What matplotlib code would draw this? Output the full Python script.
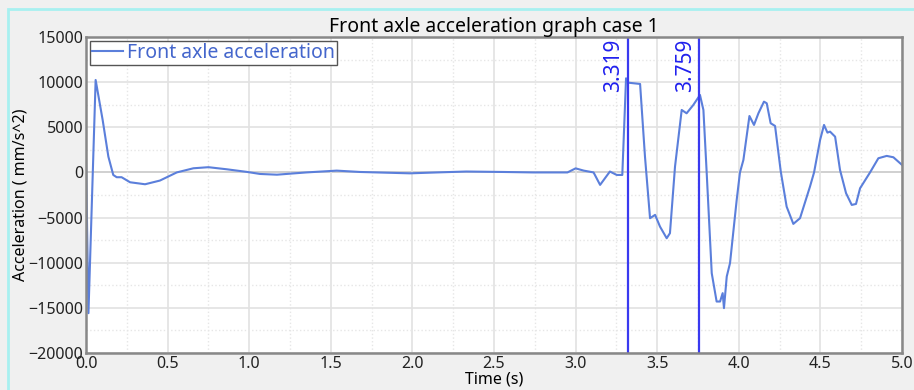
import matplotlib.pyplot as plt
from matplotlib.patches import Rectangle
from matplotlib.ticker import MultipleLocator

plt.rcParams['font.family'] = ['Noto Sans', 'DejaVu Sans']

# Tempo (s) e aceleração (mm/s^2)
tempo = [0.0, 0.0, 0.015, 0.059, 0.102, 0.137, 0.167, 0.188, 0.218, 0.27, 0.362,
         0.453, 0.556, 0.658, 0.75, 0.862, 0.985, 1.066, 1.17, 1.35, 1.536, 1.68,
         1.985, 2.15, 2.33, 2.56, 2.74, 2.95, 3.0, 3.05, 3.11, 3.15, 3.21, 3.252,
         3.286, 3.309, 3.323, 3.395, 3.425, 3.456, 3.487, 3.517, 3.558, 3.578,
         3.609, 3.65, 3.68, 3.721, 3.762, 3.783, 3.803, 3.834, 3.864, 3.885,
         3.901, 3.909, 3.926, 3.946, 3.987, 4.007, 4.028, 4.065, 4.093, 4.12,
         4.154, 4.171, 4.195, 4.222, 4.257, 4.293, 4.334, 4.375, 4.436, 4.461,
         4.498, 4.522, 4.543, 4.559, 4.59, 4.62, 4.657, 4.692, 4.718, 4.743,
         4.804, 4.855, 4.906, 4.947, 5.0]
aceleracao = [1460, 1460, -15590, 10240, 5810, 1750, -280, -530, -530, -1090, -1310,
              -900, 0, 460, 580, 350, 60, -170, -250, 0, 200, 50,
              -100, 0, 100, 50, 0, 0, 450, 200, 0, -1380, 100, -280,
              -280, 10430, 9940, 9800, 1750, -5070, -4700, -6000, -7290, -6730,
              640, 6920, 6550, 7470, 8580, 6920, 0, -11160, -14300, -14300,
              -13370, -15030, -11530, -10050, -3040, 0, 1380, 6250, 5260, 6550,
              7840, 7660, 5450, 5150, 100, -3790, -5700, -5070, -1570, 0,
              3600, 5260, 4410, 4520, 3960, 280, -2300, -3600, -3490, -1750,
              0, 1570, 1830, 1680, 830]

marcadores = [3.319, 3.759]

fig = plt.figure(figsize=(9.14, 3.9), dpi=100, facecolor='#f0f0f0')
fig.patches.append(Rectangle((0.009, -0.01), 1.0, 0.987, transform=fig.transFigure,
                             fill=False, edgecolor='#a8f0f0', linewidth=2))
ax = fig.add_axes([0.0941, 0.0949, 0.8928, 0.8102])

ax.plot(tempo, aceleracao, color='#5b7fdb', linewidth=1.5, label='Front axle acceleration')
ax.axhline(0, color='#707070', linewidth=1.3, zorder=1)
for m in marcadores:
    ax.axvline(m, color='#3a3af0', linewidth=1.6)
    ax.text(m - 0.02, 14800, f'{m:.3f}', rotation=90, color='#2020ee', fontsize=15,
            ha='right', va='top')

ax.set_xlim(0, 5)
ax.set_ylim(-20000, 15000)
ax.xaxis.set_major_locator(MultipleLocator(0.5))
ax.xaxis.set_minor_locator(MultipleLocator(0.25))
ax.yaxis.set_major_locator(MultipleLocator(5000))
ax.yaxis.set_minor_locator(MultipleLocator(2500))
ax.grid(True, which='major', color='#e2e2e2', linewidth=1.2)
ax.grid(True, which='minor', color='#e6e6e6', linewidth=1, linestyle=':')
ax.tick_params(which='both', length=0, labelsize=11.5, labelcolor='#222222', pad=2)
for s in ax.spines.values():
    s.set_color('#888888')
    s.set_linewidth(1.8)

ax.set_title('Front axle acceleration graph case 1', fontsize=14, pad=2)
ax.set_xlabel('Time (s)', fontsize=11.5, labelpad=0)
ax.set_ylabel('Acceleration ( mm/s^2)', fontsize=11.5, labelpad=0)

leg = ax.legend(loc='upper left', fontsize=14, fancybox=False, framealpha=1,
                edgecolor='#555555', handlelength=1.6, handletextpad=0.2,
                borderpad=0.1, borderaxespad=0.2)
for t in leg.get_texts():
    t.set_color('#4466cc')

plt.savefig('out.png', dpi=100, facecolor=fig.get_facecolor())
